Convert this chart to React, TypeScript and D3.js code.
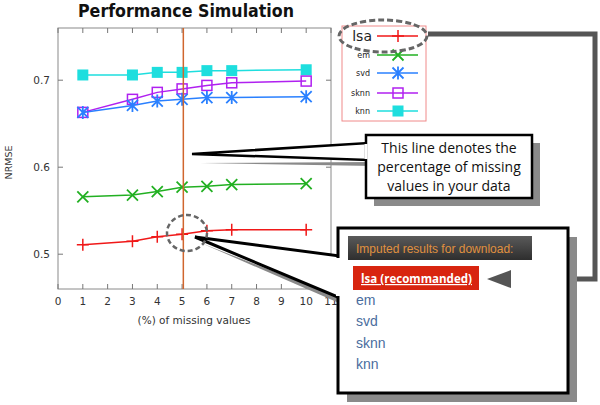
import React from "react";
import * as d3 from "d3";

const xs = [1, 3, 4, 5, 6, 7, 10];
const seriesNames = ["lsa", "em", "svd", "sknn", "knn"];
const lsa = [0.511, 0.515, 0.52, 0.523, 0.527, 0.528, 0.528];
const em = [0.566, 0.568, 0.572, 0.577, 0.578, 0.58, 0.581];
const svd = [0.663, 0.671, 0.676, 0.678, 0.68, 0.68, 0.681];
const sknn = [0.663, 0.678, 0.686, 0.69, 0.694, 0.697, 0.699];
const knn = [0.706, 0.706, 0.709, 0.709, 0.711, 0.711, 0.712];
const xTicks = [0, 1, 2, 3, 4, 5, 6, 7, 8, 9, 10, 11];
const yTicks = [0.5, 0.6, 0.7];
const missingPct = 5.05;
const downloadLinks = ["em", "svd", "sknn", "knn"];

const colors: Record<string, string> = {
  lsa: "#f01818",
  em: "#22b022",
  svd: "#2a80ff",
  sknn: "#b020f0",
  knn: "#1edede",
};
const values: Record<string, number[]> = { lsa, em, svd, sknn, knn };

const W = 600, H = 405;
const plot = { left: 58, right: 331, top: 28, bottom: 289 };

function Marker({ name, x, y }: { name: string; x: number; y: number }) {
  const c = colors[name];
  if (name === "lsa") {
    const s = 6;
    return <path d={`M${x - s},${y}H${x + s}M${x},${y - s}V${y + s}`} stroke={c} strokeWidth={1.5} fill="none" />;
  }
  if (name === "em") {
    const s = 5.5;
    return <path d={`M${x - s},${y - s}L${x + s},${y + s}M${x - s},${y + s}L${x + s},${y - s}`} stroke={c} strokeWidth={1.8} fill="none" />;
  }
  if (name === "svd") {
    const s = 5.5;
    return <path d={`M${x - s},${y - s}L${x + s},${y + s}M${x - s},${y + s}L${x + s},${y - s}M${x},${y - s - 1}V${y + s + 1}`} stroke={c} strokeWidth={1.8} fill="none" />;
  }
  if (name === "sknn") {
    const s = 5;
    return <rect x={x - s} y={y - s} width={2 * s} height={2 * s} stroke={c} strokeWidth={1.5} fill="none" />;
  }
  const s = 5.5;
  return <rect x={x - s} y={y - s} width={2 * s} height={2 * s} fill={c} />;
}

export default function App() {
  const x = d3.scaleLinear().domain([0, 11]).range([plot.left, plot.right]);
  const y = d3.scaleLinear().domain([0.46, 0.76]).range([plot.bottom, plot.top]);
  const line = d3
    .line<number>()
    .x((_, i) => x(xs[i]))
    .y((d) => y(d));

  const font = "'DejaVu Sans', sans-serif";
  const calloutFont = "'Open Sans', sans-serif";
  const order = ["knn", "sknn", "svd", "em", "lsa"];

  const legBox = { x: 342, y: 26, w: 84, h: 95 };
  const legRows = [36, 55, 73, 93, 111];

  const c1 = { x: 366, y: 135, w: 166, h: 63 };
  const tip1 = { x: 192, y: 154 };
  const c2 = { x: 338, y: 228, w: 230, h: 165 };
  const tip2 = { x: 195, y: 237 };

  return (
    <svg
      width={W}
      height={H}
      style={{ position: "absolute", left: 0, top: 0, background: "#fff" }}
      fontFamily={font}
    >
      <rect width={W} height={H} fill="#fff" />
      <text x={186} y={17} textAnchor="middle" fontSize={17} fontWeight="bold" fill="#111" textLength={216} lengthAdjust="spacingAndGlyphs">
        Performance Simulation
      </text>

      <rect x={plot.left} y={plot.top} width={plot.right - plot.left} height={plot.bottom - plot.top} fill="none" stroke="#8a8a8a" strokeWidth={1} />
      {xTicks.map((t) => (
        <g key={"xt" + t}>
          <line x1={x(t)} x2={x(t)} y1={plot.bottom} y2={plot.bottom - 5} stroke="#777" />
          <line x1={x(t)} x2={x(t)} y1={plot.top} y2={plot.top + 5} stroke="#777" />
          <text x={x(t)} y={305} textAnchor="middle" fontSize={10.5} fill="#333">
            {t}
          </text>
        </g>
      ))}
      {yTicks.map((t) => (
        <g key={"yt" + t}>
          <line x1={plot.left} x2={plot.left + 5} y1={y(t)} y2={y(t)} stroke="#777" />
          <line x1={plot.right} x2={plot.right - 5} y1={y(t)} y2={y(t)} stroke="#777" />
          <text x={plot.left - 8} y={y(t) + 4} textAnchor="end" fontSize={10.5} fill="#333">
            {t.toFixed(1)}
          </text>
        </g>
      ))}
      <text x={194} y={324} textAnchor="middle" fontSize={10.5} fill="#333">
        (%) of missing values
      </text>
      <text transform={`translate(12,${(plot.top + plot.bottom) / 2 + 4}) rotate(-90)`} textAnchor="middle" fontSize={9.5} fill="#333">
        NRMSE
      </text>

      {order.map((n) => (
        <g key={n}>
          <path d={line(values[n]) || ""} fill="none" stroke={colors[n]} strokeWidth={1.5} />
          {values[n].map((v, i) => (
            <Marker key={i} name={n} x={x(xs[i])} y={y(v)} />
          ))}
        </g>
      ))}

      <line x1={x(missingPct)} x2={x(missingPct)} y1={plot.top} y2={plot.bottom} stroke="#d0662e" strokeWidth={1.5} />

      <rect x={legBox.x} y={legBox.y} width={legBox.w} height={legBox.h} fill="#fff" stroke="#f08a8a" strokeWidth={1} />
      {seriesNames.map((n, i) => (
        <g key={"lg" + n}>
          <text x={n === "lsa" ? 372 : 370} y={legRows[i] + (n === "lsa" ? 5 : 3)} textAnchor="end" fontSize={n === "lsa" ? 14 : 8} fill="#222">
            {n}
          </text>
          <line x1={377} x2={418} y1={legRows[i]} y2={legRows[i]} stroke={colors[n]} strokeWidth={1.5} />
          <Marker name={n} x={398} y={legRows[i]} />
        </g>
      ))}
      <ellipse cx={383} cy={36} rx={44} ry={16} fill="none" stroke="#666" strokeWidth={3} strokeDasharray="6 3" />

      <path d="M428,34 H595 V279 H506" fill="none" stroke="#555" strokeWidth={5} strokeLinejoin="miter" />

      <rect x={c1.x + 8} y={c1.y + 8} width={c1.w} height={c1.h} fill="#8a8a8a" />
      <path d={`M${tip1.x + 8},${tip1.y + 9} L${c1.x + 8},${162} L${c1.x + 8},${166} Z`} fill="#8a8a8a" />
      <path d={`M${tip1.x},${tip1.y} L${c1.x + 2},${143} L${c1.x + 2},${160} Z`} fill="#fff" stroke="#000" strokeWidth={2.5} strokeLinejoin="miter" />
      <rect x={c1.x} y={c1.y} width={c1.w} height={c1.h} fill="#fff" stroke="#000" strokeWidth={2.5} />
      <line x1={c1.x} x2={c1.x} y1={144} y2={159} stroke="#fff" strokeWidth={3} />
      {["This line denotes the", "percentage of missing", "values in your data"].map((t, i) => (
        <text key={t} x={c1.x + c1.w / 2} y={c1.y + 18 + i * 19} textAnchor="middle" fontSize={14} fontFamily={calloutFont} fill="#111">
          {t}
        </text>
      ))}

      <rect x={c2.x + 9} y={c2.y + 9} width={c2.w} height={c2.h} fill="#8a8a8a" />
      <path d={`M${tip2.x + 6},${tip2.y + 6} L${c2.x + 8},${306} L${c2.x + 8},${300} Z`} fill="#8a8a8a" />
      <path d={`M${tip2.x},${tip2.y} L${c2.x + 2},${256} L${c2.x + 2},${298} Z`} fill="#fff" stroke="#000" strokeWidth={3} strokeLinejoin="miter" />
      <rect x={c2.x} y={c2.y} width={c2.w} height={c2.h} fill="#fff" stroke="#000" strokeWidth={3} />
      <line x1={c2.x} x2={c2.x} y1={258} y2={296} stroke="#fff" strokeWidth={4} />
      <defs>
        <linearGradient id="hdr" x1="0" x2="0" y1="0" y2="1">
          <stop offset="0" stopColor="#5a5a5a" />
          <stop offset="1" stopColor="#2e2e2e" />
        </linearGradient>
      </defs>
      <rect x={348} y={236} width={184} height={24} fill="url(#hdr)" />
      <text x={356} y={252.5} fontSize={12} fontFamily="'Liberation Sans', Arial, sans-serif" fill="#e0913f">
        Imputed results for download:
      </text>
      <rect x={353} y={266} width={126} height={24} fill="#d8250f" />
      <text x={361} y={283} fontSize={12} fontWeight="bold" fontFamily="'Open Sans', sans-serif" fill="#fff" textDecoration="underline" textLength={111} lengthAdjust="spacingAndGlyphs">
        lsa (recommanded)
      </text>
      {downloadLinks.map((t, i) => (
        <text key={t} x={356} y={305 + i * 21.3} fontSize={14} fontFamily="'Liberation Sans', Arial, sans-serif" fill="#4a6d9e">
          {t}
        </text>
      ))}

      <path d="M487,279 L511,270 L511,288 Z" fill="#555" />

      <ellipse cx={187} cy={233} rx={20} ry={18} fill="none" stroke="#666" strokeWidth={2.5} strokeDasharray="5 3" />
    </svg>
  );
}
